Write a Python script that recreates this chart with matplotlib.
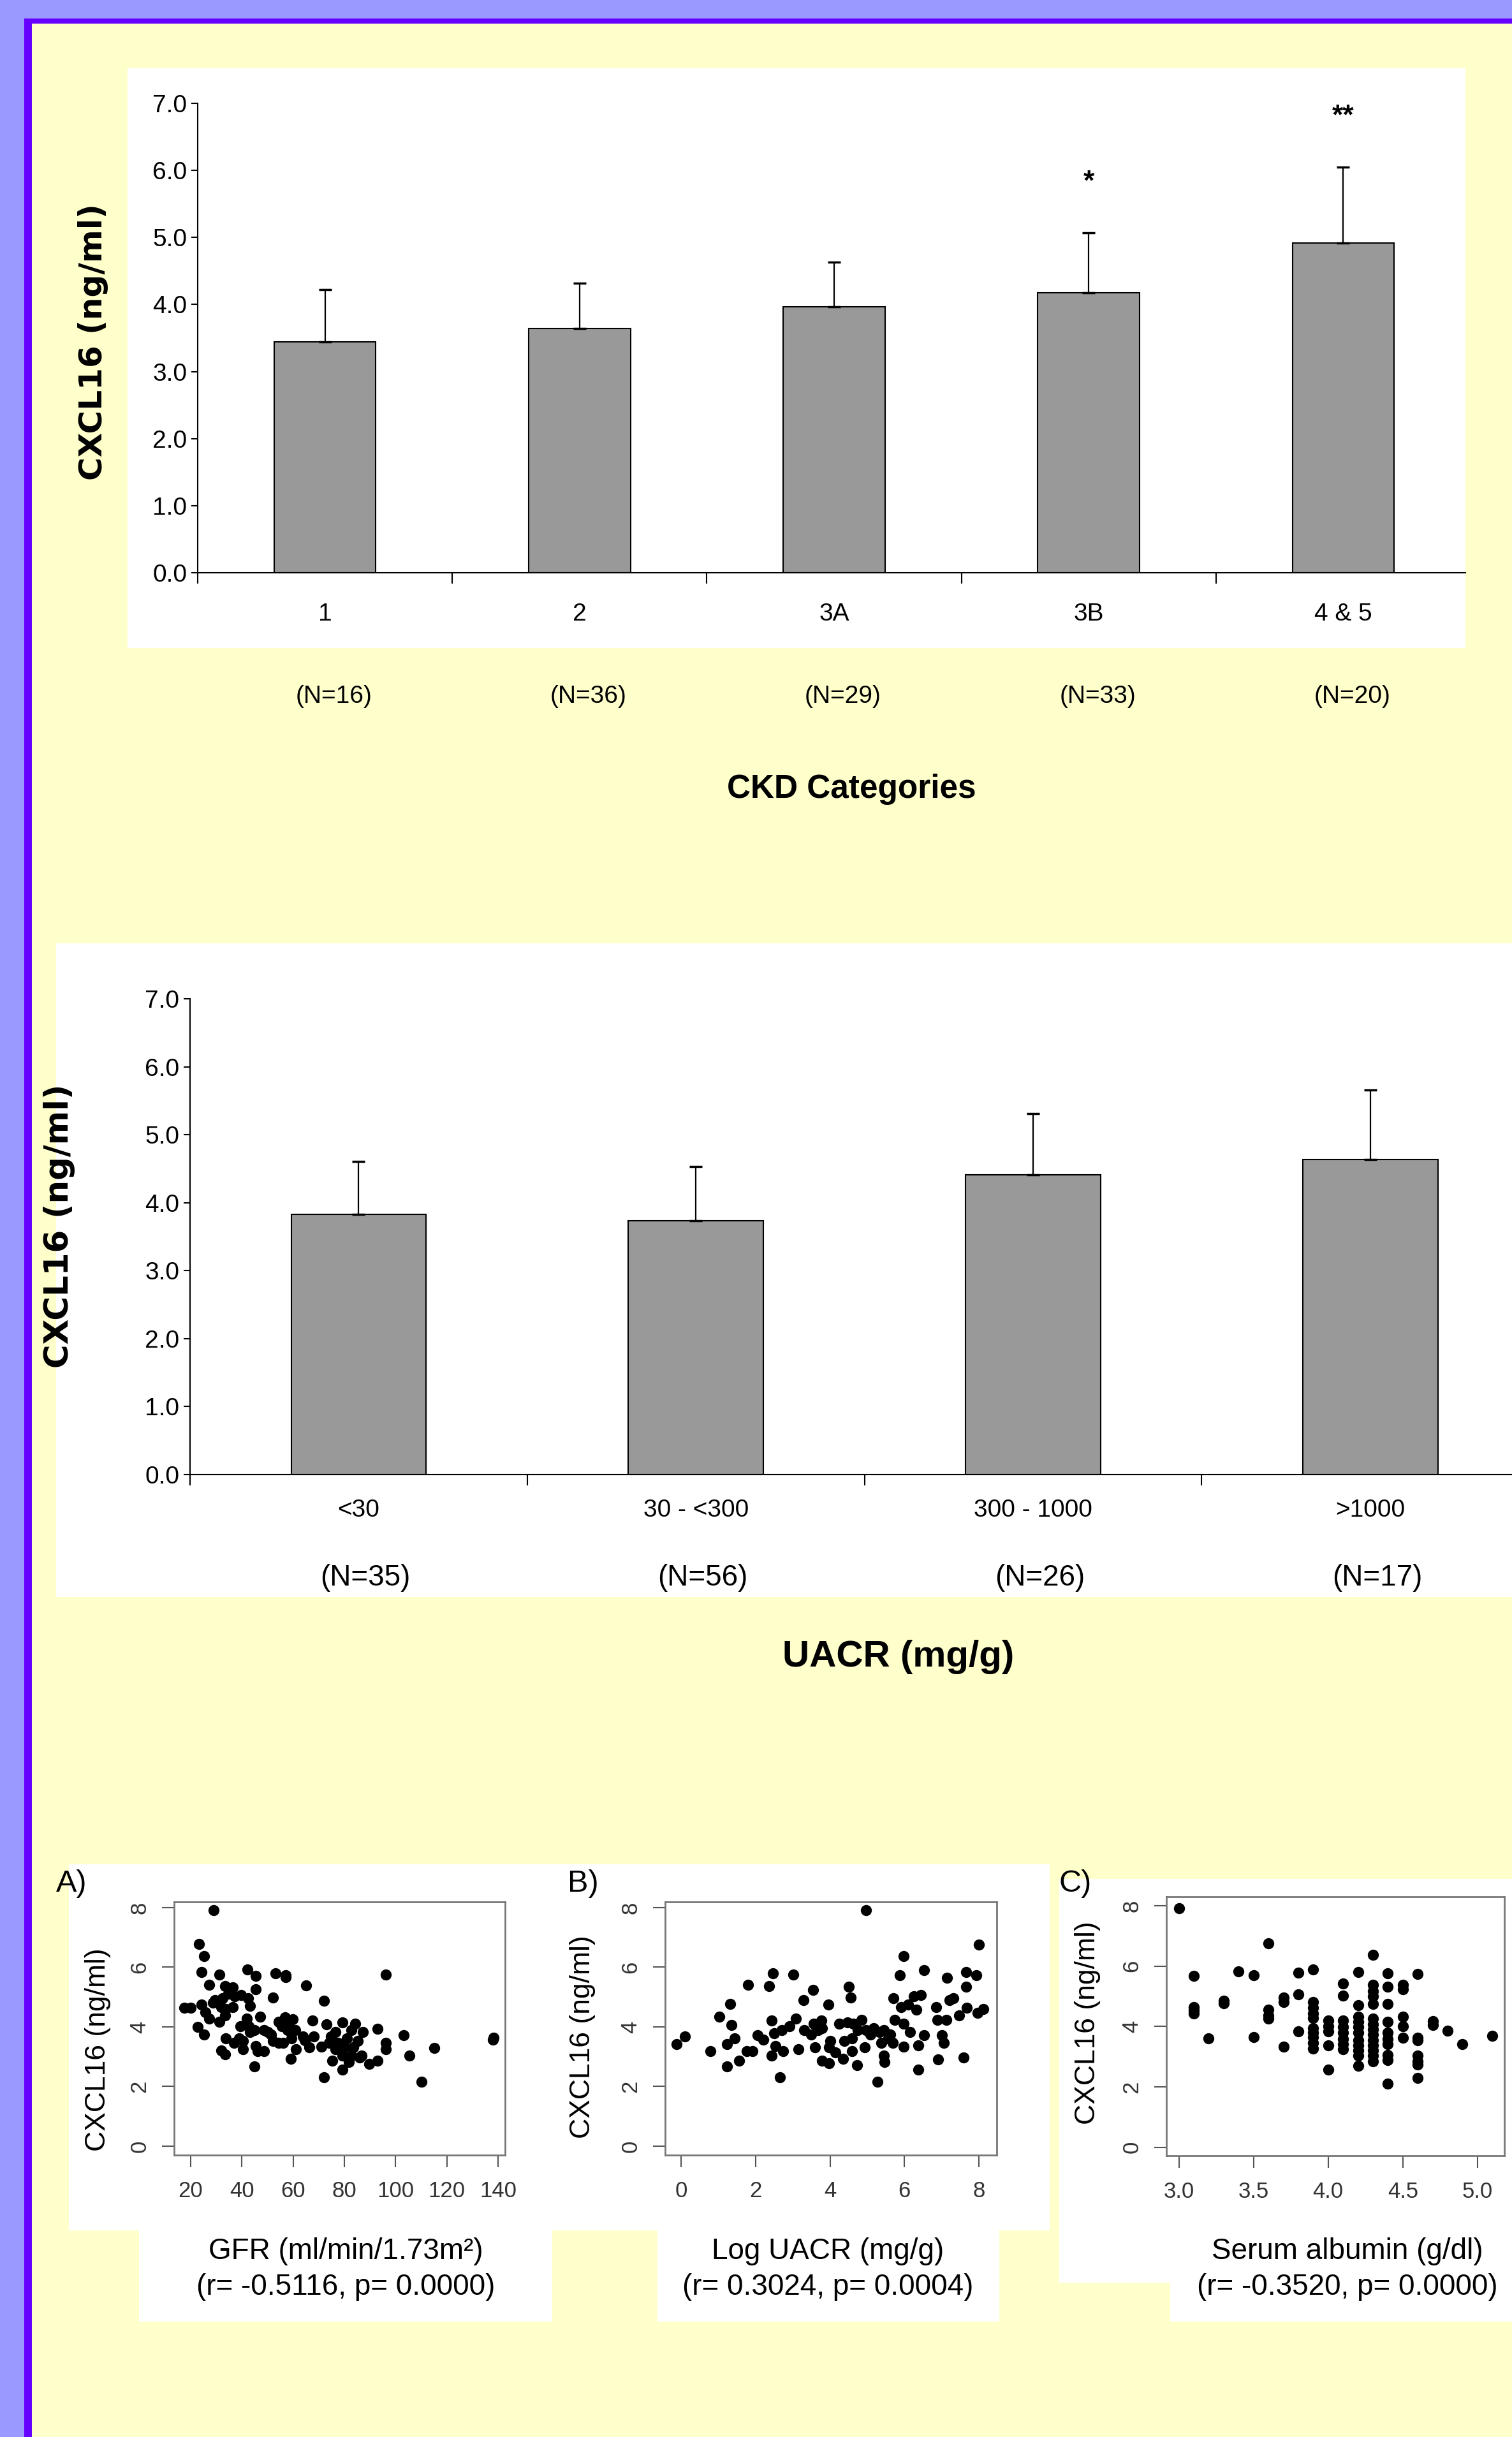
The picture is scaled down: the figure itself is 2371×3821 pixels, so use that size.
import numpy as np
import matplotlib
matplotlib.use('Agg')
import matplotlib.pyplot as plt
from matplotlib.patches import Rectangle

plt.rcParams['font.family'] = ['Liberation Sans', 'DejaVu Sans']

W, H = 2371, 3821

# CKD categories bar chart
ckd_cats = ['1', '2', '3A', '3B', '4 & 5']
ckd_n = ['(N=16)', '(N=36)', '(N=29)', '(N=33)', '(N=20)']
ckd_mean = [3.44, 3.64, 3.97, 4.18, 4.92]
ckd_sd = [0.78, 0.68, 0.66, 0.89, 1.13]
ckd_sig = ['', '', '', '*', '**']

# UACR bar chart
uacr_cats = ['<30', '30 - <300', '300 - 1000', '>1000']
uacr_n = ['(N=35)', '(N=56)', '(N=26)', '(N=17)']
uacr_mean = [3.83, 3.73, 4.41, 4.64]
uacr_sd = [0.78, 0.80, 0.90, 1.02]

# A) GFR vs CXCL16
gfr = [29, 23.3, 25.1, 24.3, 31.1, 42.1, 45.3, 53.2, 57.1, 57.0,
       65.0, 96.1, 27.1, 33.5, 36.3, 45.4, 52.1, 72.0, 17.4, 20.0,
       24.3, 29.4, 32.4, 36.3, 34.6, 39.7, 42.3, 43.1, 31.1, 25.6,
       27.3, 31.1, 33.3, 22.6, 25.1, 41.9, 47.0, 39.3, 38.9, 33.7,
       32.0, 33.3, 40.4, 44.8, 45.3, 46.1, 48.7, 44.8, 48.7, 51.3,
       54.3, 54.3, 56.9, 59.9, 57.7, 59.4, 56.0, 61.1, 59.0, 63.7,
       67.6, 68.0, 66.3, 71.0, 73.0, 74.8, 75.3, 72.1, 79.1, 84.3,
       87.3, 82.6, 77.4, 80.0, 83.4, 79.1, 81.7, 79.1, 86.0, 89.8,
       93.0, 93.0, 96.1, 96.1, 103.1, 105.3, 115.1, 110.0, 138.3, 138.0,
       55.6, 58.2, 60.8, 52.0, 50.0, 43.0, 40.4, 37.0, 42.7, 64.6,
       74.0, 76.6, 80.9, 85.1, 86.8, 82.6, 76.6, 32.0, 33.7, 28.6,
       37.1, 35.4]
gfr_cx = [7.91, 6.77, 6.38, 5.83, 5.75, 5.92, 5.70, 5.80, 5.73, 5.66,
          5.38, 5.75, 5.42, 5.37, 5.33, 5.26, 4.99, 4.87, 4.64, 4.64,
          4.74, 4.89, 4.96, 4.67, 5.10, 5.06, 4.96, 4.71, 4.81, 4.49,
          4.28, 4.17, 4.39, 4.00, 3.75, 4.28, 4.33, 4.03, 3.61, 3.61,
          3.21, 3.07, 3.25, 3.89, 3.36, 3.18, 3.18, 2.68, 3.89, 3.75,
          4.17, 3.46, 4.32, 4.25, 3.89, 3.61, 3.46, 3.25, 2.93, 3.68,
          4.21, 3.68, 3.32, 3.34, 4.09, 3.68, 2.86, 2.31, 4.14, 4.10,
          3.82, 3.89, 3.46, 3.32, 3.32, 3.04, 2.82, 2.57, 2.97, 2.75,
          2.86, 3.93, 3.46, 3.25, 3.71, 3.04, 3.29, 2.15, 3.64, 3.58,
          4.03, 4.03, 3.89, 3.53, 3.82, 3.82, 3.53, 3.46, 4.03, 3.54,
          3.46, 3.82, 3.61, 3.53, 3.04, 3.04, 3.25, 4.67, 4.60, 4.81,
          5.03, 5.24]

# B) log UACR vs CXCL16
luacr = [-0.12, 0.10, 0.79, 1.02, 1.32, 1.35, 1.44, 1.24, 1.24, 1.55,
         1.79, 1.76, 1.91, 2.06, 2.21, 2.37, 2.47, 3.02, 2.43, 2.50,
         2.71, 2.53, 2.44, 2.74, 2.66, 3.09, 3.15, 3.29, 3.55, 3.31,
         3.56, 3.76, 3.50, 3.59, 3.96, 3.79, 4.00, 3.97, 3.79, 3.97,
         4.15, 4.35, 4.25, 4.50, 4.56, 4.47, 4.59, 4.59, 4.72, 4.85,
         4.97, 4.97, 4.94, 5.18, 5.32, 5.44, 5.56, 5.38, 5.44, 5.47,
         5.28, 5.68, 5.74, 5.71, 5.88, 5.98, 5.91, 5.97, 6.15, 5.97,
         6.09, 6.26, 6.32, 6.44, 6.53, 6.53, 6.38, 6.38, 6.85, 6.88,
         7.12, 7.00, 7.06, 6.91, 7.14, 7.21, 7.32, 7.47, 7.59, 7.65,
         7.65, 7.68, 7.94, 8.00, 7.97, 8.12, 4.62, 5.09, 5.62, 4.74,
         4.38, 2.91, 3.68]
luacr_cx = [3.43, 3.68, 3.19, 4.33, 4.76, 4.07, 3.61, 3.43, 2.68, 2.86,
            5.40, 3.18, 3.18, 3.71, 3.57, 5.37, 5.80, 5.75, 4.21, 3.78,
            3.89, 3.36, 3.04, 3.18, 2.31, 4.28, 3.26, 4.89, 5.24, 3.89,
            4.10, 4.21, 3.75, 3.31, 4.74, 3.96, 3.53, 3.32, 2.86, 2.79,
            3.14, 2.93, 4.10, 5.35, 4.99, 4.14, 3.61, 3.18, 2.72, 4.24,
            7.91, 3.89, 3.32, 3.96, 3.82, 3.89, 3.61, 3.46, 3.04, 2.82,
            2.15, 3.46, 4.24, 4.96, 5.74, 6.38, 4.67, 4.10, 3.82, 3.34,
            4.74, 5.03, 4.57, 5.06, 5.90, 3.71, 3.38, 2.57, 4.67, 4.24,
            4.24, 3.71, 3.46, 2.91, 5.65, 4.89, 4.96, 4.39, 2.98, 5.83,
            5.35, 4.64, 5.74, 6.75, 4.46, 4.60, 4.10, 3.75, 3.75, 3.89,
            3.53, 4.03, 3.89]

# C) serum albumin vs CXCL16
alb = [3.0, 3.1, 3.1, 3.1, 3.1, 3.2, 3.3, 3.3, 3.4, 3.5, 3.5,
       3.6, 3.6, 3.6, 3.6, 3.7, 3.7, 3.7, 3.8, 3.8, 3.8,
       3.9, 3.9, 3.9, 3.9, 3.9, 3.9, 3.9, 3.9, 3.9, 3.9,
       4.0, 4.0, 4.0, 4.0, 4.0,
       4.1, 4.1, 4.1, 4.1, 4.1, 4.1, 4.1, 4.1,
       4.2, 4.2, 4.2, 4.2, 4.2, 4.2, 4.2, 4.2, 4.2, 4.2, 4.2,
       4.3, 4.3, 4.3, 4.3, 4.3, 4.3, 4.3, 4.3, 4.3, 4.3, 4.3, 4.3, 4.3, 4.3,
       4.4, 4.4, 4.4, 4.4, 4.4, 4.4, 4.4, 4.4, 4.4, 4.4,
       4.5, 4.5, 4.5, 4.5, 4.5,
       4.6, 4.6, 4.6, 4.6, 4.6, 4.6, 4.6,
       4.7, 4.7, 4.8, 4.9, 5.1]
alb_cx = [7.92, 5.67, 4.64, 4.54, 4.43, 3.60, 4.86, 4.78, 5.82, 5.71, 3.66,
          6.76, 4.57, 4.36, 4.26, 4.96, 4.82, 3.33, 5.79, 5.07, 3.84,
          5.89, 4.82, 4.62, 4.43, 4.29, 3.94, 3.80, 3.66, 3.45, 3.27,
          4.19, 4.01, 3.84, 3.38, 2.57,
          5.42, 5.03, 4.19, 3.98, 3.80, 3.59, 3.41, 3.24,
          5.81, 4.71, 4.33, 4.15, 3.98, 3.80, 3.55, 3.38, 3.20, 3.03, 2.71,
          6.38, 5.38, 5.17, 5.00, 4.75, 4.26, 4.08, 3.91, 3.73, 3.55, 3.38, 3.20, 3.03, 2.85,
          5.77, 5.31, 4.75, 4.15, 3.80, 3.59, 3.41, 3.06, 2.89, 2.11,
          5.38, 5.24, 4.33, 4.01, 3.62,
          5.75, 3.64, 3.55, 3.03, 2.85, 2.74, 2.29,
          4.17, 4.05, 3.87, 3.41, 3.69]


def fx(x):
    return x / W


def fy(y):
    return 1 - y / H


def box(x0, y0, x1, y1, color):
    fig.add_artist(Rectangle((fx(x0), fy(y1)), (x1 - x0) / W, (y1 - y0) / H,
                             transform=fig.transFigure, facecolor=color,
                             edgecolor='none', zorder=-5))


def axes_px(x0, y0, x1, y1):
    return fig.add_axes([fx(x0), fy(y1), (x1 - x0) / W, (y1 - y0) / H])


def bar_panel(ax, cats, means, sds, xmax, lab_y, lab_size):
    x = np.arange(len(cats))
    ax.bar(x, means, width=0.4, color='#999999', edgecolor='black',
           linewidth=1.5, zorder=2)
    ax.errorbar(x, means, yerr=[np.zeros(len(x)), sds], fmt='none',
                ecolor='black', elinewidth=1.6, capsize=7, capthick=2.5,
                zorder=3)
    ax.set_xlim(-0.5, xmax)
    ax.set_ylim(0, 7)
    ax.set_yticks(np.arange(0, 7.5, 1.0))
    ax.set_yticklabels(['%.1f' % v for v in np.arange(0, 7.5, 1.0)])
    ax.set_xticks(np.arange(-0.5, len(cats) - 0.5, 1.0))
    ax.set_xticklabels([])
    ax.tick_params(axis='x', length=12, width=1.5, direction='out')
    ax.tick_params(axis='y', length=7, width=1.5, labelsize=28, pad=5)
    for s in ['top', 'right']:
        ax.spines[s].set_visible(False)
    for s in ['left', 'bottom']:
        ax.spines[s].set_linewidth(1.5)
    ax.set_facecolor('none')
    for i, c in enumerate(cats):
        ax.text(i, lab_y, c, transform=ax.get_xaxis_transform(),
                ha='center', va='center', fontsize=lab_size)


def scatter_panel(ax, xs, ys, xlim, ylim, xticks, xticklabels):
    ax.plot(xs, ys, 'o', color='black', markersize=12.5, markeredgewidth=0)
    ax.set_xlim(*xlim)
    ax.set_ylim(*ylim)
    ax.set_xticks(xticks)
    ax.set_xticklabels(xticklabels)
    ax.set_yticks([0, 2, 4, 6, 8])
    ax.tick_params(length=14, width=1.5, color='#555555', labelsize=25,
                   labelcolor='#333333', pad=15)
    ax.tick_params(axis='y', labelrotation=90, pad=13)
    for lab in ax.get_yticklabels():
        lab.set_va('center')
    for s in ax.spines.values():
        s.set_color('#777777')
        s.set_linewidth(2)
    ax.set_facecolor('white')


fig = plt.figure(figsize=(W / 100, H / 100), dpi=100, facecolor='#ffffcc')

# poster frame
box(0, 0, W, 29, '#9999ff')
box(0, 0, 38, H, '#9999ff')
box(38, 29, 50, H, '#6600ff')
box(38, 29, W, 37, '#6600ff')

# white panels
box(200, 107, 2298, 1016, 'white')
box(88, 1479, W, 2504, 'white')
box(108, 2923, 1646, 3497, 'white')
box(218, 3497, 866, 3640, 'white')
box(1031, 3497, 1567, 3640, 'white')
box(1661, 2946, W, 3579, 'white')
box(1835, 3579, W, 3640, 'white')

# top bar chart
ax1 = axes_px(310, 162, 2298, 898)
bar_panel(ax1, ckd_cats, ckd_mean, ckd_sd, 4.48, -0.088, 28)
for i, s in enumerate(ckd_sig):
    if s:
        ax1.text(i, ckd_mean[i] + ckd_sd[i] + 0.75, s, ha='center',
                 va='center', fontsize=32, fontweight='bold')
for i, n in enumerate(ckd_n):
    ax1.text(i + 0.035, -0.264, n, transform=ax1.get_xaxis_transform(),
             ha='center', va='center', fontsize=28)
fig.text(fx(146), fy(536), 'CXCL16 (ng/ml)', rotation=90, ha='center',
         va='center', fontsize=36, fontweight='bold', family='DejaVu Sans')
fig.text(fx(1335), fy(1238), 'CKD Categories', ha='center', va='center',
         fontsize=37, fontweight='bold')

# middle bar chart
ax2 = axes_px(298, 1566, W, 2312)
bar_panel(ax2, uacr_cats, uacr_mean, uacr_sd, 3.42, -0.075, 28)
for i, n in enumerate(uacr_n):
    ax2.text(i + 0.02, -0.217, n, transform=ax2.get_xaxis_transform(),
             ha='center', va='center', fontsize=33)
fig.text(fx(93), fy(1922), 'CXCL16 (ng/ml)', rotation=90, ha='center',
         va='center', fontsize=37, fontweight='bold', family='DejaVu Sans')
fig.text(fx(1409), fy(2598), 'UACR (mg/g)', ha='center', va='center',
         fontsize=42, fontweight='bold')

# scatter plots
axA = axes_px(273, 2982, 792, 3379)
scatter_panel(axA, gfr, gfr_cx, (13.5, 142.7), (-0.3, 8.19),
              [20, 40, 60, 80, 100, 120, 140],
              ['20', '40', '60', '80', '100', '120', '140'])
axB = axes_px(1043, 2982, 1563, 3379)
scatter_panel(axB, luacr, luacr_cx, (-0.43, 8.48), (-0.3, 8.19),
              [0, 2, 4, 6, 8], ['0', '2', '4', '6', '8'])
axC = axes_px(1829, 2974, 2359, 3380)
scatter_panel(axC, alb, alb_cx, (2.916, 5.18), (-0.28, 8.30),
              [3.0, 3.5, 4.0, 4.5, 5.0], ['3.0', '3.5', '4.0', '4.5', '5.0'])

for (x, y), t in zip([(112, 2954), (914, 2954), (1686, 2954)], ['A)', 'B)', 'C)']):
    fig.text(fx(x), fy(y), t, ha='center', va='center', fontsize=35)

for x, y in [(154, 3214), (914, 3194), (1705, 3172)]:
    fig.text(fx(x), fy(y), 'CXCL16 (ng/ml)', rotation=90, ha='center',
             va='center', fontsize=32)

xlab = [('GFR (ml/min/1.73m\u00b2)', '(r= -0.5116, p= 0.0000)', 542),
        ('Log UACR (mg/g)', '(r= 0.3024, p= 0.0004)', 1298),
        ('Serum albumin (g/dl)', '(r= -0.3520, p= 0.0000)', 2113)]
for l1, l2, x in xlab:
    fig.text(fx(x), fy(3530), l1, ha='center', va='center', fontsize=33)
    fig.text(fx(x), fy(3586), l2, ha='center', va='center', fontsize=33)

fig.savefig('out.png', dpi=100, facecolor=fig.get_facecolor())
